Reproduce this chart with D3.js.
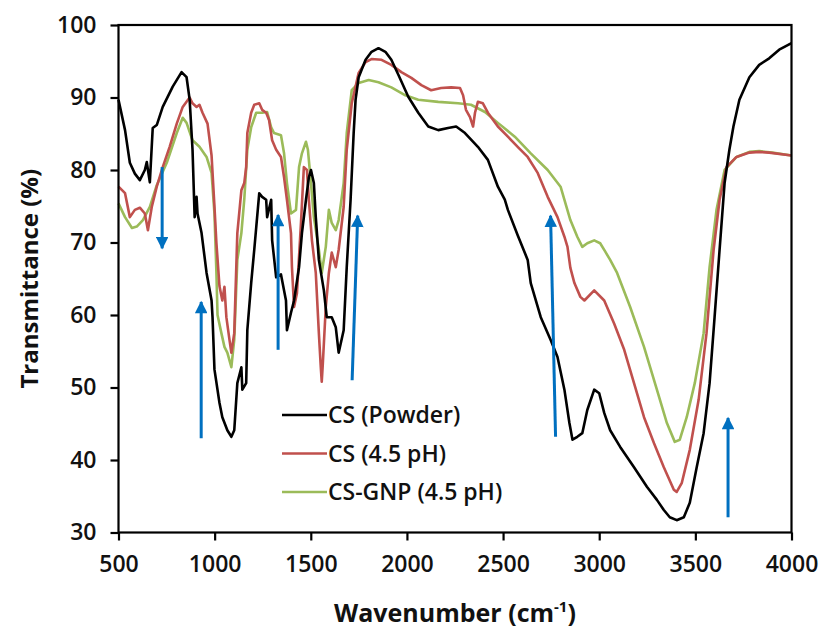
<!DOCTYPE html>
<html>
<head>
<meta charset="utf-8">
<script src="https://cdn.jsdelivr.net/npm/d3@7"></script>
<style>
    body { margin: 0; background: #fff; }
    text { font-family: 'Open Sans', sans-serif; fill: #111; }
</style>
</head>
<body>
<svg class="ftir-svg"></svg>
<script>

// wavenumber (cm-1), transmittance (%)
const csPowder = [
    [500,89.7],[534,85.5],[559,81],[585,79.5],[611,78.6],[637,80],[647,81.1],[663,78.3],[678,85.8],[699,86.2],
    [730,88.7],[782,91.5],[828,93.5],[854,92.8],[870,89.7],[885,82.8],[896,73.5],[906,76.3],[911,74],
    [932,71.3],[958,65.8],[984,62],[989,59.7],[999,52.5],[1025,47.9],[1040,45.9],[1066,44.1],[1087,43.2],
    [1102,44.1],[1118,50.6],[1139,52.8],[1144,49.7],[1164,50.6],[1170,57.9],[1190,64.4],[1206,69],
    [1232,76.8],[1247,76.3],[1268,75.9],[1273,73.5],[1294,75.9],[1299,70.3],[1320,65.2],[1345,65.6],
    [1371,62],[1376,57.9],[1397,60.3],[1413,62],[1439,66.6],[1454,71.3],[1475,75.9],[1490,79],[1501,80],
    [1516,78.2],[1526,73.5],[1542,67.6],[1568,63.4],[1583,59.7],[1609,59.7],[1630,58.3],[1645,54.8],
    [1671,57.9],[1687,66.6],[1707,75.9],[1723,85.1],[1733,89.7],[1749,92.8],[1785,95.2],[1816,96.3],
    [1852,96.8],[1888,96.3],[1919,95.2],[1956,93.1],[2007,90.1],[2059,87.9],[2111,86],[2163,85.5],
    [2214,85.8],[2256,86],[2302,85.1],[2369,83.2],[2421,81.4],[2473,77.7],[2509,75.9],[2525,74.5],
    [2576,71],[2628,67.6],[2644,64.4],[2696,59.7],[2747,56.6],[2783,54.2],[2819,49.7],[2845,45.1],
    [2861,42.8],[2886,43.2],[2912,43.7],[2938,46.9],[2974,49.7],[3000,49.2],[3026,46.5],[3057,44.1],
    [3109,41.8],[3181,39],[3248,36.3],[3300,34.5],[3336,33.1],[3367,32.1],[3403,31.7],[3440,32.1],
    [3471,34.1],[3507,39],[3543,43.7],[3574,50.6],[3600,59.7],[3626,69],[3652,78.2],[3677,82.8],
    [3698,86],[3729,89.7],[3781,92.8],[3832,94.5],[3884,95.4],[3936,96.6],[4000,97.5]
]

const cs45 = [
    [500,77.7],[534,76.8],[559,73.5],[585,74.5],[611,74.8],[637,74],[653,71.7],[673,74.9],[699,77.7],
    [730,80.4],[766,83.2],[803,86.4],[834,88.7],[870,90],[885,89.2],[906,88.7],[921,89],[937,87.9],
    [963,86.4],[984,82],[999,75],[1009,70],[1025,64],[1040,62],[1051,63.9],[1061,59.7],[1077,56.6],
    [1087,54.8],[1102,57.5],[1118,71.3],[1139,77.2],[1154,78.2],[1164,80.4],[1170,85.1],[1190,87.9],
    [1206,89],[1232,89.2],[1247,88.3],[1268,87.9],[1283,86.9],[1299,84.1],[1320,82.8],[1345,81.8],
    [1361,79],[1376,75.9],[1397,71.3],[1402,66.6],[1413,61.1],[1428,63],[1449,72.7],[1464,80.4],
    [1480,80],[1490,75.9],[1506,70.3],[1526,65.8],[1542,57.5],[1552,52.8],[1557,50.8],[1562,53],
    [1578,61.1],[1594,65.8],[1609,68.6],[1630,66.6],[1645,69],[1671,74.9],[1687,82.8],[1713,89.2],
    [1749,93.4],[1785,94.9],[1816,95.3],[1868,95.2],[1919,94.5],[1971,93.5],[2023,92.7],[2075,91.7],
    [2126,91],[2178,91.3],[2230,91.4],[2276,91.3],[2292,90.3],[2307,88.3],[2328,87.3],[2344,86],
    [2354,87.9],[2369,89.4],[2395,89.2],[2421,87.9],[2473,86],[2525,84.6],[2576,83.2],[2628,81.8],
    [2680,79.6],[2732,76.3],[2783,73.5],[2819,70.8],[2835,69.4],[2850,66.5],[2871,64.4],[2902,62.5],
    [2923,62],[2974,63.4],[3026,62],[3078,58.8],[3130,55.2],[3181,50.6],[3233,45.9],[3285,42.3],
    [3336,39],[3388,35.9],[3403,35.6],[3429,36.8],[3471,41.4],[3517,48.3],[3558,57.5],[3595,69],
    [3626,75.9],[3662,80.4],[3714,81.8],[3781,82.4],[3832,82.5],[3884,82.4],[4000,82]
]

const csGnp = [
    [500,75.4],[534,73.5],[570,72],[595,72.2],[627,73.1],[663,74.9],[699,77.9],[751,81],[803,85.1],
    [834,87.2],[854,86.5],[885,84.1],[921,83.2],[958,81.8],[984,79.6],[999,74],[1009,66],[1015,60],
    [1035,57.5],[1051,55.6],[1066,54.8],[1087,52.8],[1102,56.6],[1118,67.6],[1139,71.3],[1154,75.9],
    [1170,82.8],[1190,85.9],[1216,87.9],[1247,87.9],[1273,88],[1294,85.9],[1309,85.1],[1345,84.8],
    [1361,82.3],[1376,78.2],[1397,74],[1423,74.5],[1439,80.4],[1454,82.3],[1475,83.9],[1485,82.8],
    [1501,78.2],[1516,73.5],[1542,69],[1557,65.8],[1578,69.4],[1594,74.5],[1609,72.7],[1630,71.7],
    [1645,73.1],[1671,78.2],[1687,85.1],[1713,91],[1749,92],[1801,92.4],[1852,92.1],[1919,91.4],
    [1992,90.3],[2059,89.7],[2163,89.4],[2266,89.2],[2333,89],[2406,88],[2473,86.5],[2561,84.6],
    [2644,82.3],[2732,80],[2799,77.7],[2850,73.1],[2886,70.8],[2912,69.4],[2938,69.9],[2974,70.3],
    [3005,69.9],[3030,68.8],[3057,67.6],[3093,65.8],[3161,61.1],[3233,55.6],[3300,49.7],[3352,45.1],
    [3393,42.5],[3419,42.8],[3455,45.9],[3497,50.6],[3543,57.5],[3574,66.6],[3610,74.5],[3652,80],
    [3714,81.8],[3781,82.5],[3832,82.6],[3900,82.4],[4000,82]
]

const seriesNames = [ 'CS (Powder)', 'CS (4.5 pH)', 'CS-GNP (4.5 pH)' ]
const seriesColors = [ '#000000', '#c0504d', '#9bbb59' ]

const xTicks = [ 500, 1000, 1500, 2000, 2500, 3000, 3500, 4000 ]
const yTicks = [ 30, 40, 50, 60, 70, 80, 90, 100 ]

// [wavenumber tail, T tail, wavenumber head, T head]
const arrows = [
    [ 727, 80.4, 727, 69.2 ],
    [ 930, 43.0, 930, 61.8 ],
    [ 1330, 55.2, 1330, 73.8 ],
    [ 1715, 51.0, 1744, 73.7 ],
    [ 2773, 43.2, 2747, 73.7 ],
    [ 3670, 32.1, 3670, 45.8 ]
]

const draw = () => {

    const width = 820
    const height = 636

    const svg = d3
        .select('.ftir-svg')
        .attr('width', width)
        .attr('height', height)

    const x = d3.scaleLinear().domain([ 500, 4000 ]).range([ 118.5, 791.5 ])
    const y = d3.scaleLinear().domain([ 30, 100 ]).range([ 532.5, 25 ])

    const line = d3.line()
        .x(d => x(d[0]))
        .y(d => y(d[1]))

    // spectra
    const allSeries = [ csPowder, cs45, csGnp ]

    // green first, black on top
    svg.selectAll('path.spec')
        .data([ 2, 1, 0 ])
        .enter()
        .append('path')
        .attr('class', 'spec')
        .attr('d', i => line(allSeries[i]))
        .attr('fill', 'none')
        .attr('stroke', i => seriesColors[i])
        .attr('stroke-width', 2.6)
        .attr('stroke-linejoin', 'round')

    // arrows
    const defs = svg.append('defs')
    defs.append('marker')
        .attr('id', 'ahead')
        .attr('viewBox', '0 0 10 10')
        .attr('refX', 9)
        .attr('refY', 5)
        .attr('markerWidth', 4.4)
        .attr('markerHeight', 4.2)
        .attr('markerUnits', 'strokeWidth')
        .attr('orient', 'auto')
        .append('path')
        .attr('d', 'M0,0 L10,5 L0,10 Z')
        .attr('fill', '#0070c0')

    svg.selectAll('line.arrow')
        .data(arrows)
        .enter()
        .append('line')
        .attr('class', 'arrow')
        .attr('x1', d => x(d[0]))
        .attr('y1', d => y(d[1]))
        .attr('x2', d => x(d[2]))
        .attr('y2', d => y(d[3]))
        .attr('stroke', '#0070c0')
        .attr('stroke-width', 3)
        .attr('marker-end', 'url(#ahead)')

    // frame
    svg.append('rect')
        .attr('x', x(500))
        .attr('y', y(100))
        .attr('width', x(4000) - x(500))
        .attr('height', y(30) - y(100))
        .attr('fill', 'none')
        .attr('stroke', '#000')
        .attr('stroke-width', 2.2)

    const xAxis = svg.append('g')
        .attr('transform', `translate(0,${y(30)})`)
        .call(d3.axisBottom(x).tickValues(xTicks).tickFormat(d3.format('d')).tickSize(8).tickPadding(15))

    const yAxis = svg.append('g')
        .attr('transform', `translate(${x(500)},0)`)
        .call(d3.axisLeft(y).tickValues(yTicks).tickFormat(d3.format('d')).tickSize(8).tickPadding(14))

    ;[ xAxis, yAxis ].forEach(g => {
        g.select('.domain').remove()
        g.selectAll('line').attr('stroke', '#000').attr('stroke-width', 2.2)
        g.selectAll('text')
            .attr('font-size', 23)
            .attr('font-weight', 600)
            .attr('font-family', 'Open Sans, sans-serif')
            .attr('fill', '#111')
    })

    // axis titles
    svg.append('text')
        .attr('transform', `translate(38,${(y(30) + y(100)) / 2}) rotate(-90)`)
        .attr('text-anchor', 'middle')
        .attr('font-size', 24)
        .attr('font-weight', 700)
        .text('Transmittance (%)')

    const xt = svg.append('text')
        .attr('x', 455)
        .attr('y', 622)
        .attr('text-anchor', 'middle')
        .attr('font-size', 25)
        .attr('font-weight', 700)
    xt.append('tspan').text('Wavenumber (cm')
    xt.append('tspan').attr('font-size', 15).attr('dy', -10).text('-1')
    xt.append('tspan').attr('dy', 10).text(')')

    // legend
    const legend = svg.append('g')
        .selectAll('g')
        .data(seriesNames)
        .enter()
        .append('g')
        .attr('transform', (d, i) => `translate(282,${415 + i * 38.5})`)

    legend.append('line')
        .attr('x1', 0)
        .attr('x2', 45)
        .attr('stroke', (d, i) => seriesColors[i])
        .attr('stroke-width', 2.6)

    legend.append('text')
        .attr('x', 46)
        .attr('dy', '0.35em')
        .attr('font-size', 23)
        .attr('font-weight', 600)
        .text(d => d)

}

draw()
</script>
</body>
</html>
